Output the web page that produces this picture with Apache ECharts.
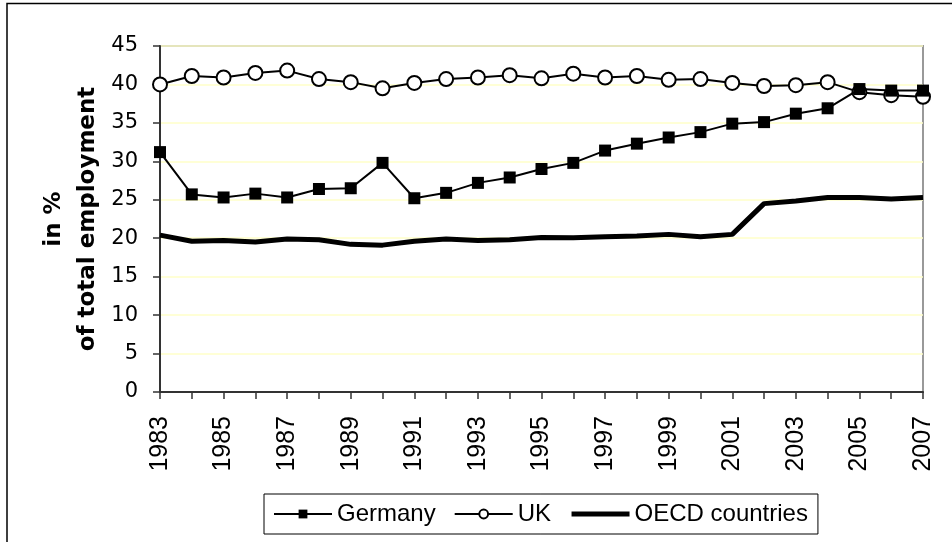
<!DOCTYPE html>
<html>
<head>
<meta charset="utf-8">
<script src="https://cdn.jsdelivr.net/npm/echarts@6/dist/echarts.min.js"></script>
<style>html,body{margin:0;padding:0;background:#fff}#c{width:952px;height:542px}</style>
</head>
<body>
<div id="c"></div>
<script>
var years = ['1983','1984','1985','1986','1987','1988','1989','1990','1991','1992','1993','1994','1995','1996','1997','1998','1999','2000','2001','2002','2003','2004','2005','2006','2007'];
var germany = [31.2,25.7,25.3,25.8,25.3,26.4,26.5,29.8,25.2,25.9,27.2,27.9,29.0,29.8,31.4,32.3,33.1,33.8,34.9,35.1,36.2,36.9,39.4,39.2,39.2];
var uk = [40.0,41.1,40.9,41.5,41.8,40.7,40.3,39.5,40.2,40.7,40.9,41.2,40.8,41.4,40.9,41.1,40.6,40.7,40.2,39.8,39.9,40.3,39.0,38.6,38.4];
var oecd = [20.4,19.6,19.7,19.5,19.9,19.8,19.2,19.1,19.6,19.9,19.7,19.8,20.1,20.05,20.2,20.3,20.5,20.2,20.5,24.5,24.85,25.3,25.3,25.1,25.3];
var yTitle = ['in %', 'of total employment'];

var sansV = '"DejaVu Sans", Verdana, sans-serif';
var sansA = '"Liberation Sans", Arial, sans-serif';
var chart = echarts.init(document.getElementById('c'), null, {renderer: 'canvas'});
chart.setOption({
  animation: false,
  backgroundColor: '#fff',
  graphic: [{
    type: 'rect', silent: true, z: -1,
    shape: {x: 7, y: 3.5, width: 1200, height: 1200},
    style: {fill: 'none', stroke: '#000', lineWidth: 1.5}
  }, {
    type: 'text', x: 54, y: 219, rotation: Math.PI / 2,
    style: {text: yTitle[0], font: 'bold 23px ' + sansV, fill: '#000', align: 'center', verticalAlign: 'middle'}
  }, {
    type: 'text', x: 88, y: 219, rotation: Math.PI / 2,
    style: {text: yTitle[1], font: 'bold 23px ' + sansV, fill: '#000', align: 'center', verticalAlign: 'middle'}
  }],
  grid: {left: 160, right: 29, top: 46, bottom: 150, show: true, borderColor: '#999', borderWidth: 2, backgroundColor: 'transparent'},
  legend: {
    left: 264, top: 494,
    padding: [7, 10, 7, 9],
    borderColor: '#000', borderWidth: 1,
    itemWidth: 58, itemHeight: 11, itemGap: 18,
    textStyle: {fontFamily: sansA, fontSize: 24, lineHeight: 26, color: '#000'},
    data: [
      {name: 'Germany', lineStyle: {width: 2}},
      {name: 'UK', lineStyle: {width: 2}},
      {name: 'OECD countries', lineStyle: {width: 5}}
    ]
  },
  xAxis: {
    type: 'category', data: years, boundaryGap: false,
    axisLine: {lineStyle: {color: '#333', width: 2}},
    axisTick: {show: true, interval: 0, length: 7, lineStyle: {color: '#333', width: 1.5}},
    axisLabel: {interval: 1, rotate: 90, fontSize: 25, color: '#000', margin: 24, fontFamily: sansA},
    splitLine: {show: false}
  },
  yAxis: {
    type: 'value', min: 0, max: 45, interval: 5,
    axisLine: {show: true, lineStyle: {color: '#333', width: 2}},
    axisTick: {show: true, length: 7, lineStyle: {color: '#333', width: 1.5}},
    axisLabel: {fontSize: 21, color: '#000', margin: 22, fontFamily: sansV},
    splitLine: {show: true, lineStyle: {color: '#FFFFC8', width: 1.5}}
  },
  series: [
    {name: 'Germany', type: 'line', data: germany, z: 4,
     symbol: 'rect', symbolSize: 12, showAllSymbol: true,
     lineStyle: {color: '#000', width: 2}, itemStyle: {color: '#000'}},
    {name: 'UK', type: 'line', data: uk, z: 3,
     symbol: 'circle', symbolSize: 14, showAllSymbol: true,
     lineStyle: {color: '#000', width: 2}, itemStyle: {color: '#fff', borderColor: '#000', borderWidth: 2}},
    {name: 'OECD countries', type: 'line', data: oecd, z: 2,
     symbol: 'none', showSymbol: false,
     lineStyle: {color: '#000', width: 5}, itemStyle: {color: 'rgba(0,0,0,0)', borderWidth: 0}}
  ]
});
</script>
</body>
</html>
